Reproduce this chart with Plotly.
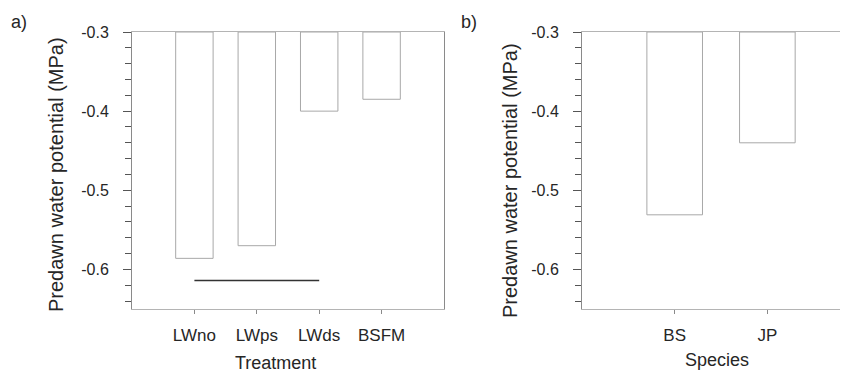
import plotly.graph_objects as go

# ---- data ----
treatments = ["LWno", "LWps", "LWds", "BSFM"]
treatment_values = [-0.586, -0.570, -0.400, -0.385]
species = ["BS", "JP"]
species_values = [-0.531, -0.440]
bar_base = -0.3
sig_line_categories = ["LWno", "LWds"]
sig_line_value = -0.614
y_tick_values = [-0.3, -0.4, -0.5, -0.6]
y_tick_labels = ["-0.3", "-0.4", "-0.5", "-0.6"]
y_title = "Predawn water potential (MPa)"
x_titles = ["Treatment", "Species"]
panel_labels = ["a)", "b)"]

# page body has an 8px margin; the figure is sized/positioned to compensate
OFF = 8
W, H = 848 - OFF, 373 - OFF
FONT = "Liberation Sans, Arial, Helvetica, sans-serif"
TXT = "#262626"
BOX = "#b4b4b4"
AX = "#8a8a8a"
TICK = "#555555"


def px_x(v):  # screen px -> paper fraction
    return (v - OFF) / W


def px_y(v):
    return 1 - (v - OFF) / H


fig = go.Figure()

fig.add_trace(go.Bar(
    x=treatments, y=[v - bar_base for v in treatment_values], base=bar_base,
    width=0.6, marker=dict(color="white", line=dict(color="#a8a8a8", width=1)),
    xaxis="x", yaxis="y", showlegend=False, hoverinfo="skip"))
fig.add_trace(go.Scatter(
    x=sig_line_categories, y=[sig_line_value] * len(sig_line_categories),
    mode="lines", line=dict(color="#333333", width=1.5),
    xaxis="x", yaxis="y", showlegend=False, hoverinfo="skip"))
fig.add_trace(go.Bar(
    x=species, y=[v - bar_base for v in species_values], base=bar_base,
    width=0.6, marker=dict(color="white", line=dict(color="#a8a8a8", width=1)),
    xaxis="x2", yaxis="y2", showlegend=False, hoverinfo="skip"))

ydom = [px_y(309), px_y(32)]


def yaxis(anchor, mirror):
    return dict(
        domain=ydom, anchor=anchor, range=[-0.65, -0.3], automargin=False,
        tickmode="array", tickvals=y_tick_values, ticktext=y_tick_labels,
        ticks="outside", ticklen=8, tickwidth=1, tickcolor=TICK,
        minor=dict(tickmode="linear", tick0=-0.3, dtick=0.02, ticks="outside",
                   ticklen=6, tickwidth=1, tickcolor=TICK, showgrid=False),
        showline=True, linecolor=AX, linewidth=1, mirror=mirror,
        showgrid=False, zeroline=False,
        tickfont=dict(family=FONT, size=16, color=TXT),
        ticklabelstandoff=11,
    )


def xaxis(anchor, domain, rng):
    return dict(
        domain=domain, anchor=anchor, type="category", range=rng, automargin=False,
        ticks="outside", ticklen=4, tickwidth=1, tickcolor=AX,
        showline=True, linecolor=BOX, linewidth=1, mirror=True,
        showgrid=False, zeroline=False,
        tickfont=dict(family=FONT, size=17, color=TXT),
        ticklabelstandoff=7,
    )


annotations = [
    dict(text=panel_labels[0], x=px_x(19), y=px_y(10), xanchor="center", yanchor="top",
         font=dict(family=FONT, size=18, color=TXT)),
    dict(text=panel_labels[1], x=px_x(468.5), y=px_y(10), xanchor="center", yanchor="top",
         font=dict(family=FONT, size=18, color=TXT)),
    dict(text=x_titles[0], x=px_x(275), y=px_y(362.5), xanchor="center", yanchor="middle",
         font=dict(family=FONT, size=18, color=TXT)),
    dict(text=x_titles[1], x=px_x(717), y=px_y(359.5), xanchor="center", yanchor="middle",
         font=dict(family=FONT, size=18, color=TXT)),
    dict(text=y_title, x=px_x(56.5), y=px_y(174.5), xanchor="center", yanchor="middle",
         textangle=-90, font=dict(family=FONT, size=20, color=TXT)),
    dict(text=y_title, x=px_x(510), y=px_y(181), xanchor="center", yanchor="middle",
         textangle=-90, font=dict(family=FONT, size=20, color=TXT)),
]
for a in annotations:
    a.update(xref="paper", yref="paper", showarrow=False)

fig.update_layout(
    width=W, height=H,
    margin=dict(l=0, r=0, t=0, b=0),
    paper_bgcolor="white", plot_bgcolor="white",
    xaxis=xaxis("y", [px_x(132), px_x(444)], [-1, 4]),
    yaxis=yaxis("x", True),
    xaxis2=xaxis("y2", [px_x(582), 1.0], [-1, 1.87]),
    yaxis2=yaxis("x2", False),
    annotations=annotations,
)

fig.write_html("out.html")
